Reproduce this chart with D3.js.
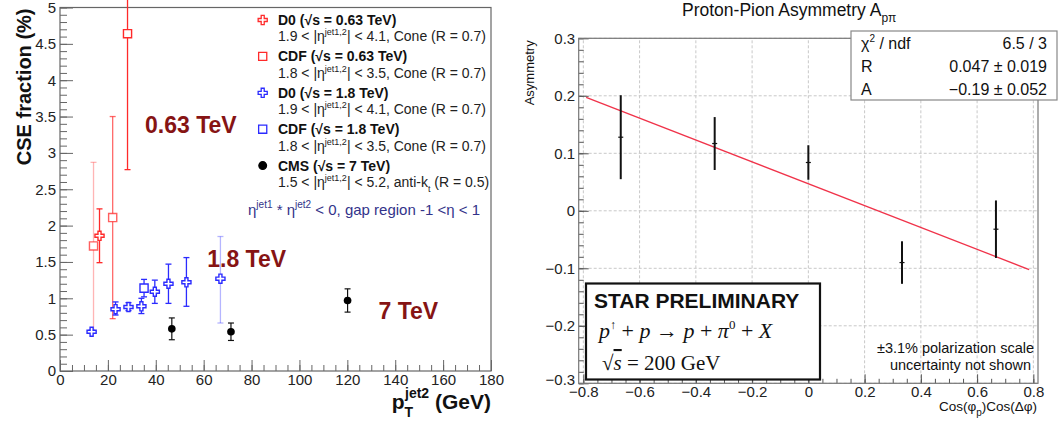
<!DOCTYPE html>
<html>
<head>
<meta charset="utf-8">
<script src="https://cdn.jsdelivr.net/npm/d3@7"></script>
<style>
  body { margin: 0; background: #fff; }
  svg { display: block; font-family: "Liberation Sans", Arial, sans-serif; }
</style>
</head>
<body>
<svg id="chart" width="1059" height="425"></svg>
<script>
// ---- left panel data : CSE fraction vs pT jet2 ----
const d0lowX = [16.5];
const d0lowY = [1.86];
const d0lowErr = [0.37];

const cdflowX = [14, 22, 28.2];
const cdflowY = [1.72, 2.11, 4.64];
const cdflowErrUp = [1.15, 1.39, 0.6];
const cdflowErrDn = [1.18, 1.39, 1.87];
const cdflowAlpha = [0.35, 0.7, 1];

const d0highX = [13.2, 23.2, 28.6, 34, 39.6, 45.3, 52.8, 67];
const d0highY = [0.54, 0.85, 0.88, 0.89, 1.09, 1.2, 1.22, 1.27];
const d0highErrUp = [0.02, 0.1, 0.06, 0.11, 0.16, 0.27, 0.34, 0.58];
const d0highErrDn = [0.02, 0.08, 0.05, 0.1, 0.16, 0.27, 0.33, 0.61];
const d0highAlpha = [1, 1, 1, 1, 1, 1, 1, 0.35];

const cdfhighX = [35.1];
const cdfhighY = [1.14];
const cdfhighErr = [0.12];

const cmsX = [46.7, 71.4, 120.1];
const cmsY = [0.58, 0.54, 0.97];
const cmsErr = [0.15, 0.12, 0.16];

const legendNames = ["D0 (\u221As = 0.63 TeV)", "CDF (\u221As = 0.63 TeV)", "D0 (\u221As = 1.8 TeV)", "CDF (\u221As = 1.8 TeV)", "CMS (\u221As = 7 TeV)"];
const legendCuts = [["1.9", "4.1, Cone (R = 0.7)"], ["1.8", "3.5, Cone (R = 0.7)"], ["1.9", "4.1, Cone (R = 0.7)"], ["1.8", "3.5, Cone (R = 0.7)"], ["1.5", "5.2, anti-k"]];
const energyLabels = ["0.63 TeV", "1.8 TeV", "7 TeV"];
const energyPos = [[35.5, 3.27], [61.5, 1.43], [133, 0.72]];

// ---- right panel data : proton-pion asymmetry ----
const cosX = [-0.667, -0.333, 0, 0.333, 0.667];
const asym = [0.128, 0.117, 0.084, -0.09, -0.032];
const asymErr = [0.073, 0.046, 0.03, 0.037, 0.05];
const fitR = 0.047, fitA = -0.19;
const fitRange = [-0.79, 0.785];
const statRows = [["\u03C7", "6.5 / 3"], ["R", "0.047 \u00B1 0.019"], ["A", "\u22120.19 \u00B1 0.052"]];

const svg = d3.select("#chart");
const red = "#ff2a2a", blue = "#2b2bff", darkRed = "#861414";

// scales
const xL = d3.scaleLinear().domain([0, 180]).range([60, 491]);
const yL = d3.scaleLinear().domain([0, 5]).range([371, 7.5]);
const xR = d3.scaleLinear().domain([-0.8165, 0.8165]).range([578.7, 1038]);
const yR = d3.scaleLinear().domain([-0.3, 0.3]).range([383.3, 38.3]);

const fmtR = d => Math.abs(d) < 1e-9 ? "0" : d3.format(".1f")(d);
const fmtL = d => +d.toFixed(1);

// root-style axis: major ticks with labels, minor ticks without, ticks pointing inward
function drawAxis(g, axisFn, scale, major, minor, majLen, minLen, pad, fmt, size, col) {
  g.append("g").call(axisFn(scale).tickValues(minor).tickSize(-minLen).tickFormat(""))
    .call(a => a.select(".domain").remove())
    .selectAll("line").attr("stroke", col);
  const ax = g.append("g").call(axisFn(scale).tickValues(major).tickSize(-majLen).tickPadding(pad).tickFormat(fmt))
    .call(a => a.select(".domain").remove());
  ax.selectAll("line").attr("stroke", col);
  ax.selectAll("text").attr("font-size", size).attr("fill", "#222")
    .attr("font-family", "Liberation Sans, Arial, sans-serif");
  return ax;
}

// ================= LEFT PANEL =================
const left = svg.append("g");

drawAxis(left.append("g").attr("transform", "translate(0,371)"), d3.axisBottom, xL,
  d3.range(0, 181, 20), d3.range(0, 181, 5), 11, 6, 3, fmtL, 15, "#666");
drawAxis(left.append("g").attr("transform", "translate(60,0)"), d3.axisLeft, yL,
  d3.range(0, 5.01, 0.5), d3.range(0, 5.01, 0.1), 13, 7, 4, fmtL, 15, "#666");

left.append("rect").attr("x", xL(0)).attr("y", yL(5)).attr("width", xL(180) - xL(0))
  .attr("height", yL(0) - yL(5)).attr("fill", "none").attr("stroke", "#666").attr("stroke-width", 1.2);

// axis titles
left.append("text").attr("transform", `translate(31,${yL(5) + 1}) rotate(-90)`)
  .attr("text-anchor", "end").attr("font-size", 20).attr("font-weight", "bold").attr("fill", "#111")
  .text("CSE fraction (%)");
const xt = left.append("text").attr("x", xL(180)).attr("y", 409).attr("text-anchor", "end")
  .attr("font-size", 21).attr("font-weight", "bold").attr("fill", "#111");
xt.append("tspan").text("p");
xt.append("tspan").attr("font-size", 14).attr("dy", 8).text("T");
xt.append("tspan").attr("font-size", 14).attr("dx", -8).attr("dy", -19).text("jet2");
xt.append("tspan").attr("dy", 11).text(" (GeV)");

// error bar helper
function errBar(g, x, y0, y1, col, alpha, cap, w) {
  const eg = g.append("g").attr("stroke", col).attr("stroke-opacity", alpha).attr("stroke-width", w);
  eg.append("line").attr("x1", x).attr("x2", x).attr("y1", y0).attr("y2", y1);
  if (cap > 0) {
    eg.append("line").attr("x1", x - cap).attr("x2", x + cap).attr("y1", y0).attr("y2", y0);
    eg.append("line").attr("x1", x - cap).attr("x2", x + cap).attr("y1", y1).attr("y2", y1);
  }
}

const plotL = left.append("g");
const crossSym = d3.symbol(d3.symbolCross, 46);
const squareSym = d3.symbol(d3.symbolSquare, 66);
const circleSym = d3.symbol(d3.symbolCircle, 46);

// CDF 0.63 TeV
cdflowX.forEach((x, i) => {
  errBar(plotL, xL(x), yL(Math.min(cdflowY[i] + cdflowErrUp[i], 5.2)), yL(cdflowY[i] - cdflowErrDn[i]), red, cdflowAlpha[i], 3, 1.3);
});
// D0 0.63 TeV
d0lowX.forEach((x, i) => {
  errBar(plotL, xL(x), yL(d0lowY[i] + d0lowErr[i]), yL(d0lowY[i] - d0lowErr[i]), red, 1, 3, 1.3);
});
// D0 1.8 TeV
d0highX.forEach((x, i) => {
  errBar(plotL, xL(x), yL(d0highY[i] + d0highErrUp[i]), yL(d0highY[i] - d0highErrDn[i]), blue, d0highAlpha[i], 3, 1.3);
});
// CDF 1.8 TeV
cdfhighX.forEach((x, i) => {
  errBar(plotL, xL(x), yL(cdfhighY[i] + cdfhighErr[i]), yL(cdfhighY[i] - cdfhighErr[i]), blue, 1, 3, 1.3);
});
// CMS
cmsX.forEach((x, i) => {
  errBar(plotL, xL(x), yL(cmsY[i] + cmsErr[i]), yL(cmsY[i] - cmsErr[i]), "#111", 1, 3, 1.2);
});

plotL.selectAll(".cl").data(cdflowX).join("path").attr("d", squareSym)
  .attr("transform", (d, i) => `translate(${xL(d)},${yL(cdflowY[i])})`)
  .attr("fill", "white").attr("stroke", red).attr("stroke-opacity", (d, i) => Math.max(cdflowAlpha[i], 0.75)).attr("stroke-width", 1.4);
plotL.selectAll(".dl").data(d0lowX).join("path").attr("d", crossSym)
  .attr("transform", (d, i) => `translate(${xL(d)},${yL(d0lowY[i])})`)
  .attr("fill", "white").attr("stroke", red).attr("stroke-width", 1.4);
plotL.selectAll(".dh").data(d0highX).join("path").attr("d", crossSym)
  .attr("transform", (d, i) => `translate(${xL(d)},${yL(d0highY[i])})`)
  .attr("fill", "white").attr("stroke", blue).attr("stroke-width", 1.4);
plotL.selectAll(".ch").data(cdfhighX).join("path").attr("d", squareSym)
  .attr("transform", (d, i) => `translate(${xL(d)},${yL(cdfhighY[i])})`)
  .attr("fill", "white").attr("stroke", blue).attr("stroke-width", 1.4);
plotL.selectAll(".cms").data(cmsX).join("path").attr("d", circleSym)
  .attr("transform", (d, i) => `translate(${xL(d)},${yL(cmsY[i])})`)
  .attr("fill", "#000");

// energy labels
left.selectAll(".en").data(energyLabels).join("text")
  .attr("x", (d, i) => xL(energyPos[i][0])).attr("y", (d, i) => yL(energyPos[i][1]))
  .attr("font-size", 23).attr("font-weight", "bold").attr("fill", darkRed)
  .text(d => d);

// legend
const legCol = [red, red, blue, blue, "#000"];
const legSym = [crossSym, squareSym, crossSym, squareSym, circleSym];
const leg = left.append("g");
legendNames.forEach((name, i) => {
  const yb = 25 + i * 36.4;
  leg.append("path").attr("d", legSym[i]).attr("transform", `translate(262.7,${yb - 5})`)
    .attr("fill", i === 4 ? "#000" : "white").attr("stroke", legCol[i]).attr("stroke-width", 1.3);
  leg.append("text").attr("x", 278).attr("y", yb).attr("font-size", 14).attr("font-weight", "bold")
    .attr("fill", "#111").text(name);
  const t = leg.append("text").attr("x", 278).attr("y", yb + 16.3).attr("font-size", 14).attr("fill", "#222");
  t.append("tspan").text(legendCuts[i][0] + " < |\u03B7");
  t.append("tspan").attr("font-size", 9).attr("dy", -6).text("jet1,2");
  t.append("tspan").attr("dy", 6).text("| < " + legendCuts[i][1]);
  if (i === 4) {
    t.append("tspan").attr("font-size", 9).attr("dy", 5).text("t");
    t.append("tspan").attr("dy", -5).text(" (R = 0.5)");
  }
});
const gap = leg.append("text").attr("x", 248).attr("y", 215).attr("font-size", 15).attr("fill", "#33338a");
gap.append("tspan").text("\u03B7");
gap.append("tspan").attr("font-size", 10).attr("dy", -7).text("jet1");
gap.append("tspan").attr("dy", 7).text(" * \u03B7");
gap.append("tspan").attr("font-size", 10).attr("dy", -7).text("jet2");
gap.append("tspan").attr("dy", 7).text(" < 0, gap region -1 <\u03B7 < 1");

// ================= RIGHT PANEL =================
const right = svg.append("g");

// grid
right.append("g").selectAll("line").data(d3.range(-0.8, 0.81, 0.2)).join("line")
  .attr("x1", d => xR(d)).attr("x2", d => xR(d)).attr("y1", yR(-0.3)).attr("y2", yR(0.3))
  .attr("stroke", "#c8c8c8").attr("stroke-dasharray", "3,2");
right.append("g").selectAll("line").data(d3.range(-0.3, 0.31, 0.1)).join("line")
  .attr("x1", xR.range()[0]).attr("x2", xR.range()[1]).attr("y1", d => yR(d)).attr("y2", d => yR(d))
  .attr("stroke", "#c8c8c8").attr("stroke-dasharray", "3,2");

drawAxis(right.append("g").attr("transform", `translate(0,${yR(-0.3)})`), d3.axisBottom, xR,
  d3.range(-0.8, 0.81, 0.2), d3.range(-0.8, 0.81, 0.05), 9, 4.5, 3.5, fmtR, 15, "#555");
const yAxR = drawAxis(right.append("g").attr("transform", `translate(${xR.range()[0]},0)`), d3.axisLeft, yR,
  d3.range(-0.3, 0.31, 0.1), d3.range(-0.3, 0.31, 0.02), 10, 5, 3.5, fmtR, 15, "#555");
// nudge the bottom label up a little, as ROOT does at the corner
yAxR.selectAll("text").filter(d => Math.abs(d + 0.3) < 1e-9).attr("dy", "0.1em");

right.append("rect").attr("x", xR.range()[0]).attr("y", yR(0.3)).attr("width", xR.range()[1] - xR.range()[0])
  .attr("height", yR(-0.3) - yR(0.3)).attr("fill", "none").attr("stroke", "#777").attr("stroke-width", 1.2);

// fit line
right.append("path")
  .datum(fitRange)
  .attr("d", d3.line().x(d => xR(d)).y(d => yR(fitR + fitA * d)))
  .attr("stroke", "#f0334a").attr("stroke-width", 1.3).attr("fill", "none");

// data points
const pts = right.append("g");
cosX.forEach((x, i) => {
  pts.append("line").attr("x1", xR(x)).attr("x2", xR(x)).attr("y1", yR(asym[i] + asymErr[i]))
    .attr("y2", yR(asym[i] - asymErr[i])).attr("stroke", "#111").attr("stroke-width", 2);
  pts.append("line").attr("x1", xR(x) - 2.5).attr("x2", xR(x) + 2.5).attr("y1", yR(asym[i]))
    .attr("y2", yR(asym[i])).attr("stroke", "#111").attr("stroke-width", 1.2);
});

// titles
const title = right.append("text").attr("x", 682).attr("y", 16).attr("font-size", 17.5).attr("fill", "#111");
title.append("tspan").text("Proton-Pion Asymmetry A");
title.append("tspan").attr("font-size", 12).attr("dy", 6).text("p\u03C0");

right.append("text").attr("transform", `translate(534,${yR(0.3) + 2}) rotate(-90)`)
  .attr("text-anchor", "end").attr("font-size", 13).attr("fill", "#111").text("Asymmetry");

const xtr = right.append("text").attr("x", 1037).attr("y", 411).attr("text-anchor", "end")
  .attr("font-size", 13.5).attr("fill", "#111");
xtr.append("tspan").text("Cos(\u03C6");
xtr.append("tspan").attr("font-size", 10).attr("dy", 5).text("p");
xtr.append("tspan").attr("dy", -5).text(")Cos(\u0394\u03C6)");

// stats box
const stats = right.append("g");
stats.append("rect").attr("x", 851).attr("y", 31).attr("width", 206).attr("height", 69)
  .attr("fill", "white").attr("stroke", "#888").attr("stroke-width", 1.2);
statRows.forEach((r, i) => {
  const yb = 48.5 + i * 23.3;
  const lt = stats.append("text").attr("x", 861).attr("y", yb).attr("font-size", 16).attr("fill", "#111");
  if (i === 0) {
    lt.append("tspan").text("\u03C7");
    lt.append("tspan").attr("font-size", 10).attr("dy", -7).text("2");
    lt.append("tspan").attr("dy", 7).text(" / ndf");
  } else {
    lt.text(r[0]);
  }
  stats.append("text").attr("x", 1047).attr("y", yb).attr("text-anchor", "end").attr("font-size", 16)
    .attr("fill", "#111").text(r[1]);
});

// STAR box
const star = right.append("g");
star.append("rect").attr("x", 586).attr("y", 283.5).attr("width", 234).attr("height", 96)
  .attr("fill", "white").attr("stroke", "#111").attr("stroke-width", 2.2);
star.append("text").attr("x", 594).attr("y", 308).attr("font-size", 21).attr("font-weight", "bold")
  .attr("fill", "#111").text("STAR PRELIMINARY");
const eq = star.append("text").attr("x", 599).attr("y", 338).attr("font-size", 22)
  .attr("font-family", "Liberation Serif, DejaVu Serif, serif").attr("fill", "#111");
eq.append("tspan").attr("font-style", "italic").text("p");
eq.append("tspan").attr("font-size", 12).attr("dy", -9).text("\u2191");
eq.append("tspan").attr("dy", 9).text(" + ");
eq.append("tspan").attr("font-style", "italic").text("p");
eq.append("tspan").text(" \u2192 ");
eq.append("tspan").attr("font-style", "italic").text("p");
eq.append("tspan").text(" + ");
eq.append("tspan").attr("font-style", "italic").text("\u03C0");
eq.append("tspan").attr("font-size", 13).attr("dy", -9).text("0");
eq.append("tspan").attr("dy", 9).text(" + ");
eq.append("tspan").attr("font-style", "italic").text("X");
const sq = star.append("text").attr("x", 602).attr("y", 370).attr("font-size", 21)
  .attr("font-family", "Liberation Serif, DejaVu Serif, serif").attr("fill", "#111");
sq.append("tspan").text("\u221A");
sq.append("tspan").attr("font-style", "italic").attr("text-decoration", "overline").text("s");
sq.append("tspan").text(" = 200 GeV");

// polarization note
right.append("text").attr("x", 1034).attr("y", 353).attr("text-anchor", "end").attr("font-size", 14.5)
  .attr("fill", "#111").text("\u00B13.1% polarization scale");
right.append("text").attr("x", 1031).attr("y", 370).attr("text-anchor", "end").attr("font-size", 14.5)
  .attr("fill", "#111").text("uncertainty not shown");
</script>
</body>
</html>
